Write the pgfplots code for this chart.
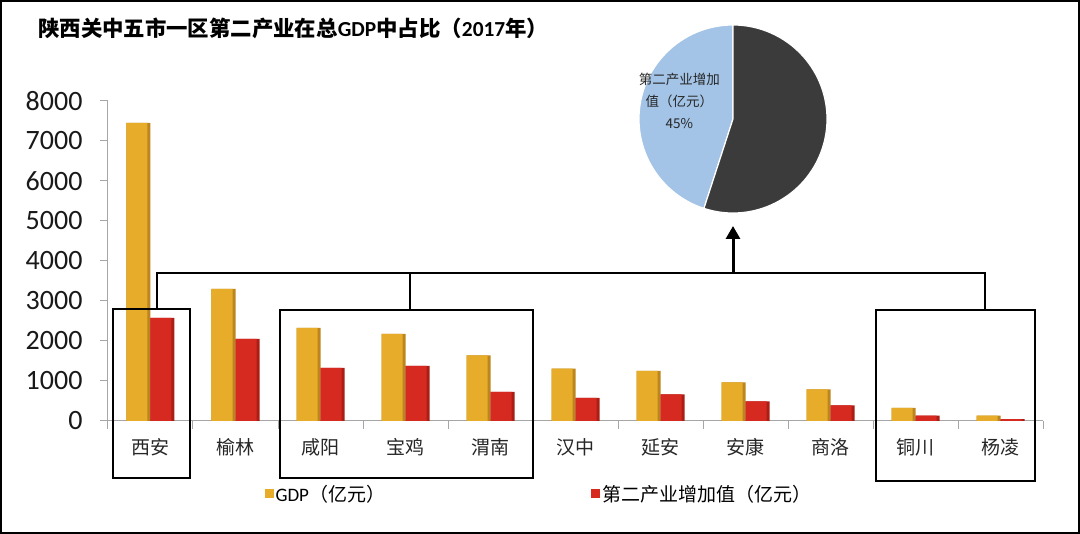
\documentclass[border=0pt]{standalone}
\usepackage{pgfplots}
\pgfplotsset{compat=1.18}
\usepackage{pgfplotstable}
\usepackage{fontspec}
\setmainfont{Carlito}
\newfontfamily\cjk{Noto Sans CJK SC}
\usetikzlibrary{arrows.meta,calc}
\definecolor{goldA}{HTML}{E7AC2A}
\definecolor{goldD}{HTML}{BC851D}
\definecolor{redA}{HTML}{D6291F}
\definecolor{redD}{HTML}{AA1E16}
\definecolor{pieblue}{HTML}{A3C4E6}
\definecolor{piedark}{HTML}{3B3B3B}
\definecolor{axgray}{HTML}{A6A6A6}

\pgfplotstableread{
x gdp sec
0 7450 2575
1 3300 2050
2 2330 1330
3 2175 1375
4 1640 730
5 1310 575
6 1250 665
7 965 490
8 790 390
9 325 135
10 135 45
}\datatable

% pie shares (%)
\def\pieSec{45}
\def\pieOther{55}

\begin{document}
\begin{tikzpicture}
\path[use as bounding box] (0pt,0pt) rectangle (1080pt,534pt);
\draw[line width=2pt] (1pt,1pt) rectangle (1079pt,533pt);

\node[anchor=west, inner sep=0pt] at (38pt,506pt)
  {\fontsize{21.4}{24}\selectfont\bfseries{\cjk 陕西关中五市一区第二产业在总}GDP{\cjk 中占比（}2017{\cjk 年）}};

\begin{axis}[
  at={(108pt,113pt)}, anchor=south west,
  scale only axis, width=935pt, height=320pt,
  xmin=-0.5, xmax=10.5, ymin=0, ymax=8000,
  ybar,
  axis x line*=bottom, axis y line*=left,
  axis line style={draw=axgray, line width=1pt, -},
  tick align=outside, major tick length=8pt,
  tick style={draw=axgray, line width=1pt},
  ytick={0,1000,...,8000},
  /pgf/number format/assume math mode=true,
  /pgf/number format/1000 sep={},
  yticklabel style={font=\fontsize{28}{30}\selectfont, text=black!90, xshift=-14pt},
  xtick={-0.5,0.5,...,10.5}, xticklabels={},
  extra x ticks={0,1,...,10},
  extra x tick labels={西安,榆林,咸阳,宝鸡,渭南,汉中,延安,安康,商洛,铜川,杨凌},
  extra x tick style={major tick length=0pt,
     xticklabel style={font=\fontsize{19}{22}\selectfont\cjk, text=black!85, yshift=-14pt}},
  legend style={at={(0.164,-0.228)}, anchor=west, draw=none, fill=none,
     legend columns=2, font=\fontsize{19}{22}\selectfont,
     /tikz/every even column/.append style={column sep=204pt}},
  legend image code/.code={\fill[#1] (0pt,-4.5pt) rectangle (9pt,4.5pt);},
  clip=false,
]
% GDP: darker edge underneath, main colour on top
\addplot[forget plot, draw=none, fill=goldD, bar width=24pt, bar shift=-12pt] table[x=x,y=gdp]{\datatable};
\addplot[draw=none, fill=goldA, bar width=21pt, bar shift=-13.5pt] table[x=x,y=gdp]{\datatable};
% secondary industry value added
\addplot[forget plot, draw=none, fill=redD, bar width=24pt, bar shift=12pt] table[x=x,y=sec]{\datatable};
\addplot[draw=none, fill=redA, bar width=21pt, bar shift=10.5pt] table[x=x,y=sec]{\datatable};
\legend{GDP{\cjk （亿元）},{\cjk 第二产业增加值（亿元）}}
\end{axis}

\pgfmathsetmacro{\angA}{90+3.6*\pieSec}
\pgfmathsetmacro{\angB}{\angA+3.6*\pieOther}
\begin{axis}[
  at={(733pt,415pt)}, anchor=center,
  scale only axis, width=188pt, height=188pt,
  xmin=-1, xmax=1, ymin=-1, ymax=1, hide axis, clip=false,
]
\filldraw[fill=pieblue, draw=white, line width=1.2pt] (axis cs:0,0) -- (axis cs:0,1) arc[start angle=90, end angle=\angA, radius=94pt] -- cycle;
\filldraw[fill=piedark, draw=white, line width=1.2pt] (axis cs:0,0) -- ($(axis cs:0,0)+(\angA:94pt)$) arc[start angle=\angA, end angle=\angB, radius=94pt] -- cycle;
\node[align=center, font=\fontsize{13.5}{22}\selectfont\cjk, text=black!85] at (axis cs:-0.57,0.19) {第二产业增加\\值（亿元）\\45\%};
\end{axis}

\begin{scope}[x=1pt, y=-1pt, shift={(0pt,534pt)}, line width=2.5pt]
\draw (113,309) rectangle (190,478);
\draw (280,310) rectangle (533,478);
\draw (876,310) rectangle (1035,481);
\draw[line width=2.2pt] (157,309) -- (157,273) -- (985,273) -- (985,310);
\draw[line width=2.2pt] (410,273) -- (410,310);
\draw[line width=3pt, -{Triangle[width=14pt,length=13pt]}] (733,273) -- (733,226);
\end{scope}
\end{tikzpicture}
\end{document}
